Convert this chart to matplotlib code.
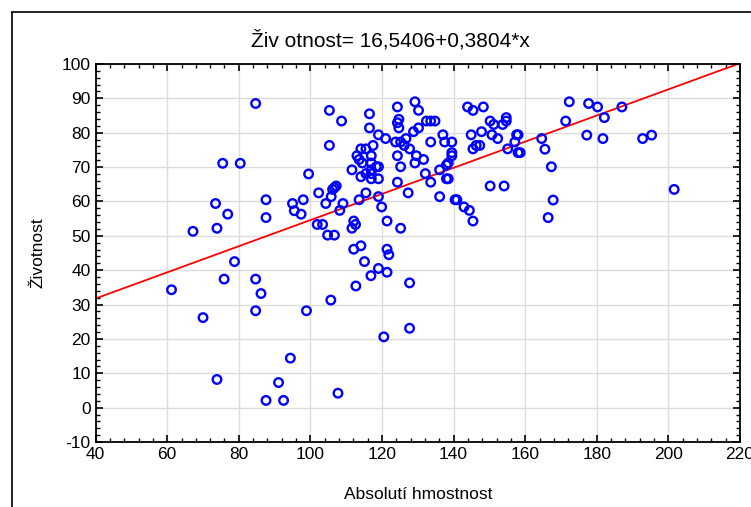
import matplotlib
matplotlib.use("Agg")
import matplotlib.pyplot as plt
from matplotlib.lines import Line2D
from matplotlib.ticker import MultipleLocator, AutoMinorLocator

# regression coefficients from the title
intercept = 16.5406
slope = 0.3804

hmotnost = [
    84.7, 75.5, 80.4, 99.5, 73.5, 87.6, 95.0, 98.0, 95.5, 97.4, 76.9, 87.6, 73.9, 67.2,
    78.8, 75.9, 84.7, 86.2, 61.2, 70.0, 84.7, 98.9, 94.4, 73.9, 91.1, 87.6, 92.5,
    105.7, 112.7, 116.9, 119.0, 121.4, 127.7, 115.1, 112.1, 114.1, 121.4, 121.9, 120.5, 127.7, 107.7,
    129.2, 124.3, 130.2, 105.3, 143.9, 145.4, 148.3, 116.5, 108.7, 124.3, 124.7, 124.7, 116.5,
    130.2, 128.8, 132.4, 133.6, 134.8, 150.2, 151.2, 154.7, 154.7, 153.7, 147.8, 144.9, 150.7,
    152.3, 157.6, 158.0, 157.1, 158.0, 155.1, 145.4, 146.3, 147.3, 137.0, 137.5, 139.5, 139.5,
    139.5, 138.5, 138.0, 136.1, 138.0, 138.5, 133.6, 131.6, 132.1, 133.6, 136.1, 140.4, 140.9,
    142.9, 144.4, 145.4, 150.2, 154.1, 119.0, 121.0, 123.8, 125.2, 126.7, 126.2, 127.7, 124.3,
    125.2, 129.6, 129.2, 124.3, 127.3, 105.3, 117.5, 114.1, 115.5, 113.0, 117.0, 113.6, 114.5,
    117.0, 118.4, 119.0, 111.6, 117.0, 117.0, 115.5, 114.1, 117.0, 119.0, 115.5, 119.0, 113.6,
    119.9, 121.4, 125.2, 107.2, 106.7, 106.2, 105.8, 102.3, 104.3, 109.1, 108.2, 101.9, 103.4,
    104.8, 106.7, 112.1, 112.6, 111.6, 158.6, 164.6, 165.5, 167.3, 167.8, 166.4, 171.3, 172.3,
    177.7, 180.2, 187.0, 182.1, 177.2, 181.7, 192.8, 195.3, 201.6,
]
zivotnost = [
    88.5, 71.1, 71.1, 68.0, 59.4, 60.5, 59.4, 60.5, 57.3, 56.3, 56.3, 55.3, 52.2, 51.3,
    42.5, 37.4, 37.4, 33.2, 34.3, 26.2, 28.2, 28.2, 14.4, 8.2, 7.3, 2.1, 2.1,
    31.3, 35.4, 38.4, 40.5, 39.4, 36.3, 42.5, 46.1, 47.1, 46.1, 44.5, 20.6, 23.1, 4.2,
    89.0, 87.5, 86.5, 86.5, 87.5, 86.5, 87.5, 85.5, 83.4, 82.9, 83.9, 81.4, 81.4,
    81.4, 80.3, 83.4, 83.4, 83.4, 83.4, 82.4, 84.4, 83.4, 82.4, 80.3, 79.4, 79.4,
    78.3, 79.4, 79.4, 77.3, 74.2, 75.3, 75.3, 76.3, 76.3, 79.4, 77.3, 77.3, 74.2,
    73.3, 71.2, 70.6, 69.2, 66.6, 66.6, 77.3, 72.2, 68.1, 65.6, 61.4, 60.5, 60.5,
    58.4, 57.4, 54.3, 64.5, 64.5, 79.4, 78.3, 77.3, 77.3, 78.3, 76.3, 75.3, 73.3,
    70.1, 73.3, 71.2, 65.6, 62.5, 76.3, 76.3, 75.3, 75.3, 73.3, 73.3, 72.2, 71.2,
    71.2, 70.1, 70.1, 69.2, 69.2, 68.1, 68.1, 67.2, 66.6, 66.6, 62.5, 61.4, 60.5,
    58.4, 54.3, 52.2, 64.5, 64.0, 63.5, 61.4, 62.5, 59.4, 59.4, 57.4, 53.3, 53.3,
    50.2, 50.2, 54.3, 53.3, 52.2, 74.2, 78.3, 75.2, 70.1, 60.4, 55.3, 83.4, 89.0,
    88.5, 87.5, 87.5, 84.4, 79.3, 78.3, 78.3, 79.3, 63.5,
]

plt.rcParams['font.family'] = ['Liberation Sans', 'DejaVu Sans']
plt.rcParams['axes.unicode_minus'] = False

fig = plt.figure(figsize=(7.51, 5.07), dpi=100)
ax = fig.add_axes([0.1273, 0.1282, 0.8581, 0.7456])

ax.grid(True, color='#dcdcdc', linewidth=1)
ax.set_axisbelow(True)

xs = [40, 220]
ax.plot(xs, [intercept + slope * v for v in xs], color='red', linewidth=1.3, zorder=2)
ax.scatter(hmotnost, zivotnost, s=38, facecolors='none', edgecolors='blue',
           linewidths=1.7, zorder=3)

ax.set_xlim(40, 220)
ax.set_ylim(-10, 100)
ax.xaxis.set_major_locator(MultipleLocator(20))
ax.yaxis.set_major_locator(MultipleLocator(10))
ax.xaxis.set_minor_locator(AutoMinorLocator(5))
ax.yaxis.set_minor_locator(AutoMinorLocator(5))
ax.tick_params(which='both', direction='in', top=True, right=True, labelsize=12.5)
ax.tick_params(which='major', length=5, width=1.2)
ax.tick_params(which='minor', length=3, width=1)
for sp in ax.spines.values():
    sp.set_linewidth(1.3)

ax.set_xlabel('Absolutí hmostnost', fontsize=12.5, labelpad=18)
ax.set_ylabel('Životnost', fontsize=12.5, labelpad=12)
fig.text(0.52, 0.921, 'Živ otnost= 16,5406+0,3804*x', ha='center', va='center', fontsize=15)

# outer frame (cut off at right and bottom)
fig.add_artist(Line2D([0.016, 0.016], [0, 0.976], color='black', linewidth=1.2))
fig.add_artist(Line2D([0.016, 1], [0.976, 0.976], color='black', linewidth=1.2))

fig.savefig('out.png', dpi=100)
